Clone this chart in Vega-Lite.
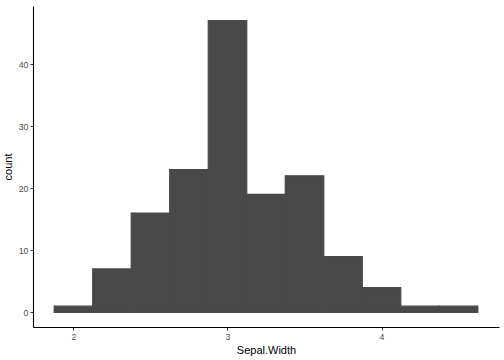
{
  "$schema": "https://vega.github.io/schema/vega-lite/v6.json",
  "width": 466,
  "height": 321,
  "autosize": {"type": "none"},
  "padding": {"left": 33, "top": 6, "right": 5, "bottom": 33},
  "background": "white",
  "config": {
    "view": {"stroke": null},
    "font": "Liberation Sans",
    "axis": {
      "grid": false,
      "domainColor": "black",
      "domainWidth": 1.1,
      "tickColor": "#333333",
      "tickSize": 3,
      "tickWidth": 1,
      "labelColor": "#4D4D4D",
      "labelFontSize": 8.8,
      "labelFont": "Liberation Sans",
      "titleFont": "Liberation Sans",
      "titleFontSize": 11,
      "titleFontWeight": "normal",
      "titleColor": "black",
      "labelPadding": 2
    }
  },
  "data": {
    "values": [
      {"start": 1.875, "end": 2.125, "count": 1},
      {"start": 2.125, "end": 2.375, "count": 7},
      {"start": 2.375, "end": 2.625, "count": 16},
      {"start": 2.625, "end": 2.875, "count": 23},
      {"start": 2.875, "end": 3.125, "count": 47},
      {"start": 3.125, "end": 3.375, "count": 19},
      {"start": 3.375, "end": 3.625, "count": 22},
      {"start": 3.625, "end": 3.875, "count": 9},
      {"start": 3.875, "end": 4.125, "count": 4},
      {"start": 4.125, "end": 4.375, "count": 1},
      {"start": 4.375, "end": 4.625, "count": 1}
    ]
  },
  "mark": {"type": "bar", "color": "#494949", "stroke": "#494949", "strokeWidth": 1.2, "strokeJoin": "miter", "binSpacing": 0},
  "encoding": {
    "x": {
      "field": "start",
      "type": "quantitative",
      "scale": {"domain": [1.7375, 4.7625], "nice": false, "zero": false},
      "axis": {"values": [2, 3, 4], "title": "Sepal.Width", "titlePadding": 4, "format": "d"}
    },
    "x2": {"field": "end"},
    "y": {
      "field": "count",
      "type": "quantitative",
      "scale": {"domain": [-2.35, 49.35], "nice": false, "zero": false},
      "axis": {"values": [0, 10, 20, 30, 40], "title": "count", "titlePadding": 5}
    },
    "y2": {"datum": 0}
  }
}
